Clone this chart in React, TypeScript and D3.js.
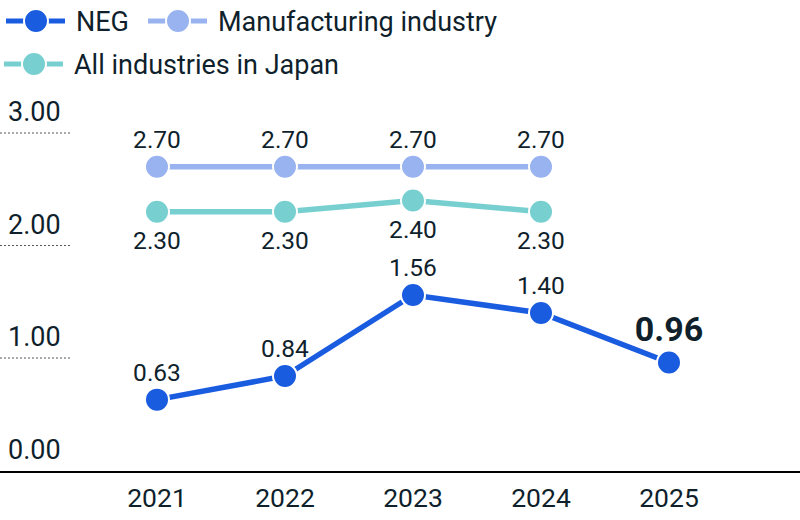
import React from 'react';
import * as d3 from 'd3';

const years = ['2021', '2022', '2023', '2024', '2025'];
const negValues = [0.63, 0.84, 1.56, 1.4, 0.96];
const manufacturingValues = [2.7, 2.7, 2.7, 2.7];
const allJapanValues = [2.3, 2.3, 2.4, 2.3];
const yTicks = [0, 1, 2, 3];

const width = 800;
const height = 520;
const textColor = '#0f1f2c';
const font = 'Roboto, "Noto Sans", sans-serif';

const colors = {
  neg: '#1a5ce0',
  manufacturing: '#98b3ef',
  all: '#77cfcf',
};

const App = () => {
  const xScale = d3.scalePoint<string>().domain(years).range([157, 669]);
  const yScale = d3.scaleLinear().domain([0, 3]).range([470.5, 133]);

  const line = d3
    .line<number>()
    .x((_, i) => xScale(years[i]) as number)
    .y((d) => yScale(d));

  const series = [
    { key: 'manufacturing', values: manufacturingValues, color: colors.manufacturing, labelPos: 'above' },
    { key: 'all', values: allJapanValues, color: colors.all, labelPos: 'below' },
    { key: 'neg', values: negValues, color: colors.neg, labelPos: 'above' },
  ];

  const legend = [
    { label: 'NEG', color: colors.neg, x: 6, y: 21 },
    { label: 'Manufacturing industry', color: colors.manufacturing, x: 148, y: 21 },
    { label: 'All industries in Japan', color: colors.all, x: 4, y: 64 },
  ];

  return (
    <svg
      width={width}
      height={height}
      style={{ position: 'absolute', left: 0, top: 0, background: '#fff' }}
      fontFamily={font}
    >
      {/* legend */}
      {legend.map((l) => (
        <g key={l.label}>
          <line x1={l.x} x2={l.x + 59} y1={l.y} y2={l.y} stroke={l.color} strokeWidth={5} />
          <circle cx={l.x + 30} cy={l.y} r={12} fill={l.color} stroke="#fff" strokeWidth={2} />
          <text x={l.x + 70} y={l.y + 9.5} fontSize={27} fill={textColor}>
            {l.label}
          </text>
        </g>
      ))}

      {/* y ticks with short dotted guides */}
      {yTicks.map((t) => (
        <g key={t}>
          {t > 0 && (
            <line
              x1={0}
              x2={72}
              y1={yScale(t)}
              y2={yScale(t)}
              stroke="#555"
              strokeWidth={1}
              strokeDasharray="2,2"
            />
          )}
          <text x={8} y={yScale(t) - 12} fontSize={27} fill={textColor}>
            {d3.format('.2f')(t)}
          </text>
        </g>
      ))}

      {/* baseline */}
      <line x1={0} x2={width} y1={472} y2={472} stroke="#000" strokeWidth={2} />

      {/* x labels */}
      {years.map((y) => (
        <text key={y} x={xScale(y)} y={506.5} fontSize={26.5} fill={textColor} textAnchor="middle">
          {y}
        </text>
      ))}

      {/* series */}
      {series.map((s) => (
        <g key={s.key}>
          <path d={line(s.values) ?? ''} fill="none" stroke={s.color} strokeWidth={5.5} />
          {s.values.map((v, i) => {
            const cx = xScale(years[i]) as number;
            const cy = yScale(v);
            const isLatest = s.key === 'neg' && i === s.values.length - 1;
            return (
              <g key={i}>
                <circle cx={cx} cy={cy} r={12} fill={s.color} stroke="#fff" strokeWidth={2} />
                <text
                  x={cx}
                  y={s.labelPos === 'above' ? (isLatest ? cy - 22 : cy - 19) : cy + 37}
                  fontSize={isLatest ? 34 : 24.5}
                  fontWeight={isLatest ? 700 : 400}
                  fill={textColor}
                  textAnchor="middle"
                >
                  {d3.format('.2f')(v)}
                </text>
              </g>
            );
          })}
        </g>
      ))}
    </svg>
  );
};

export default App;
